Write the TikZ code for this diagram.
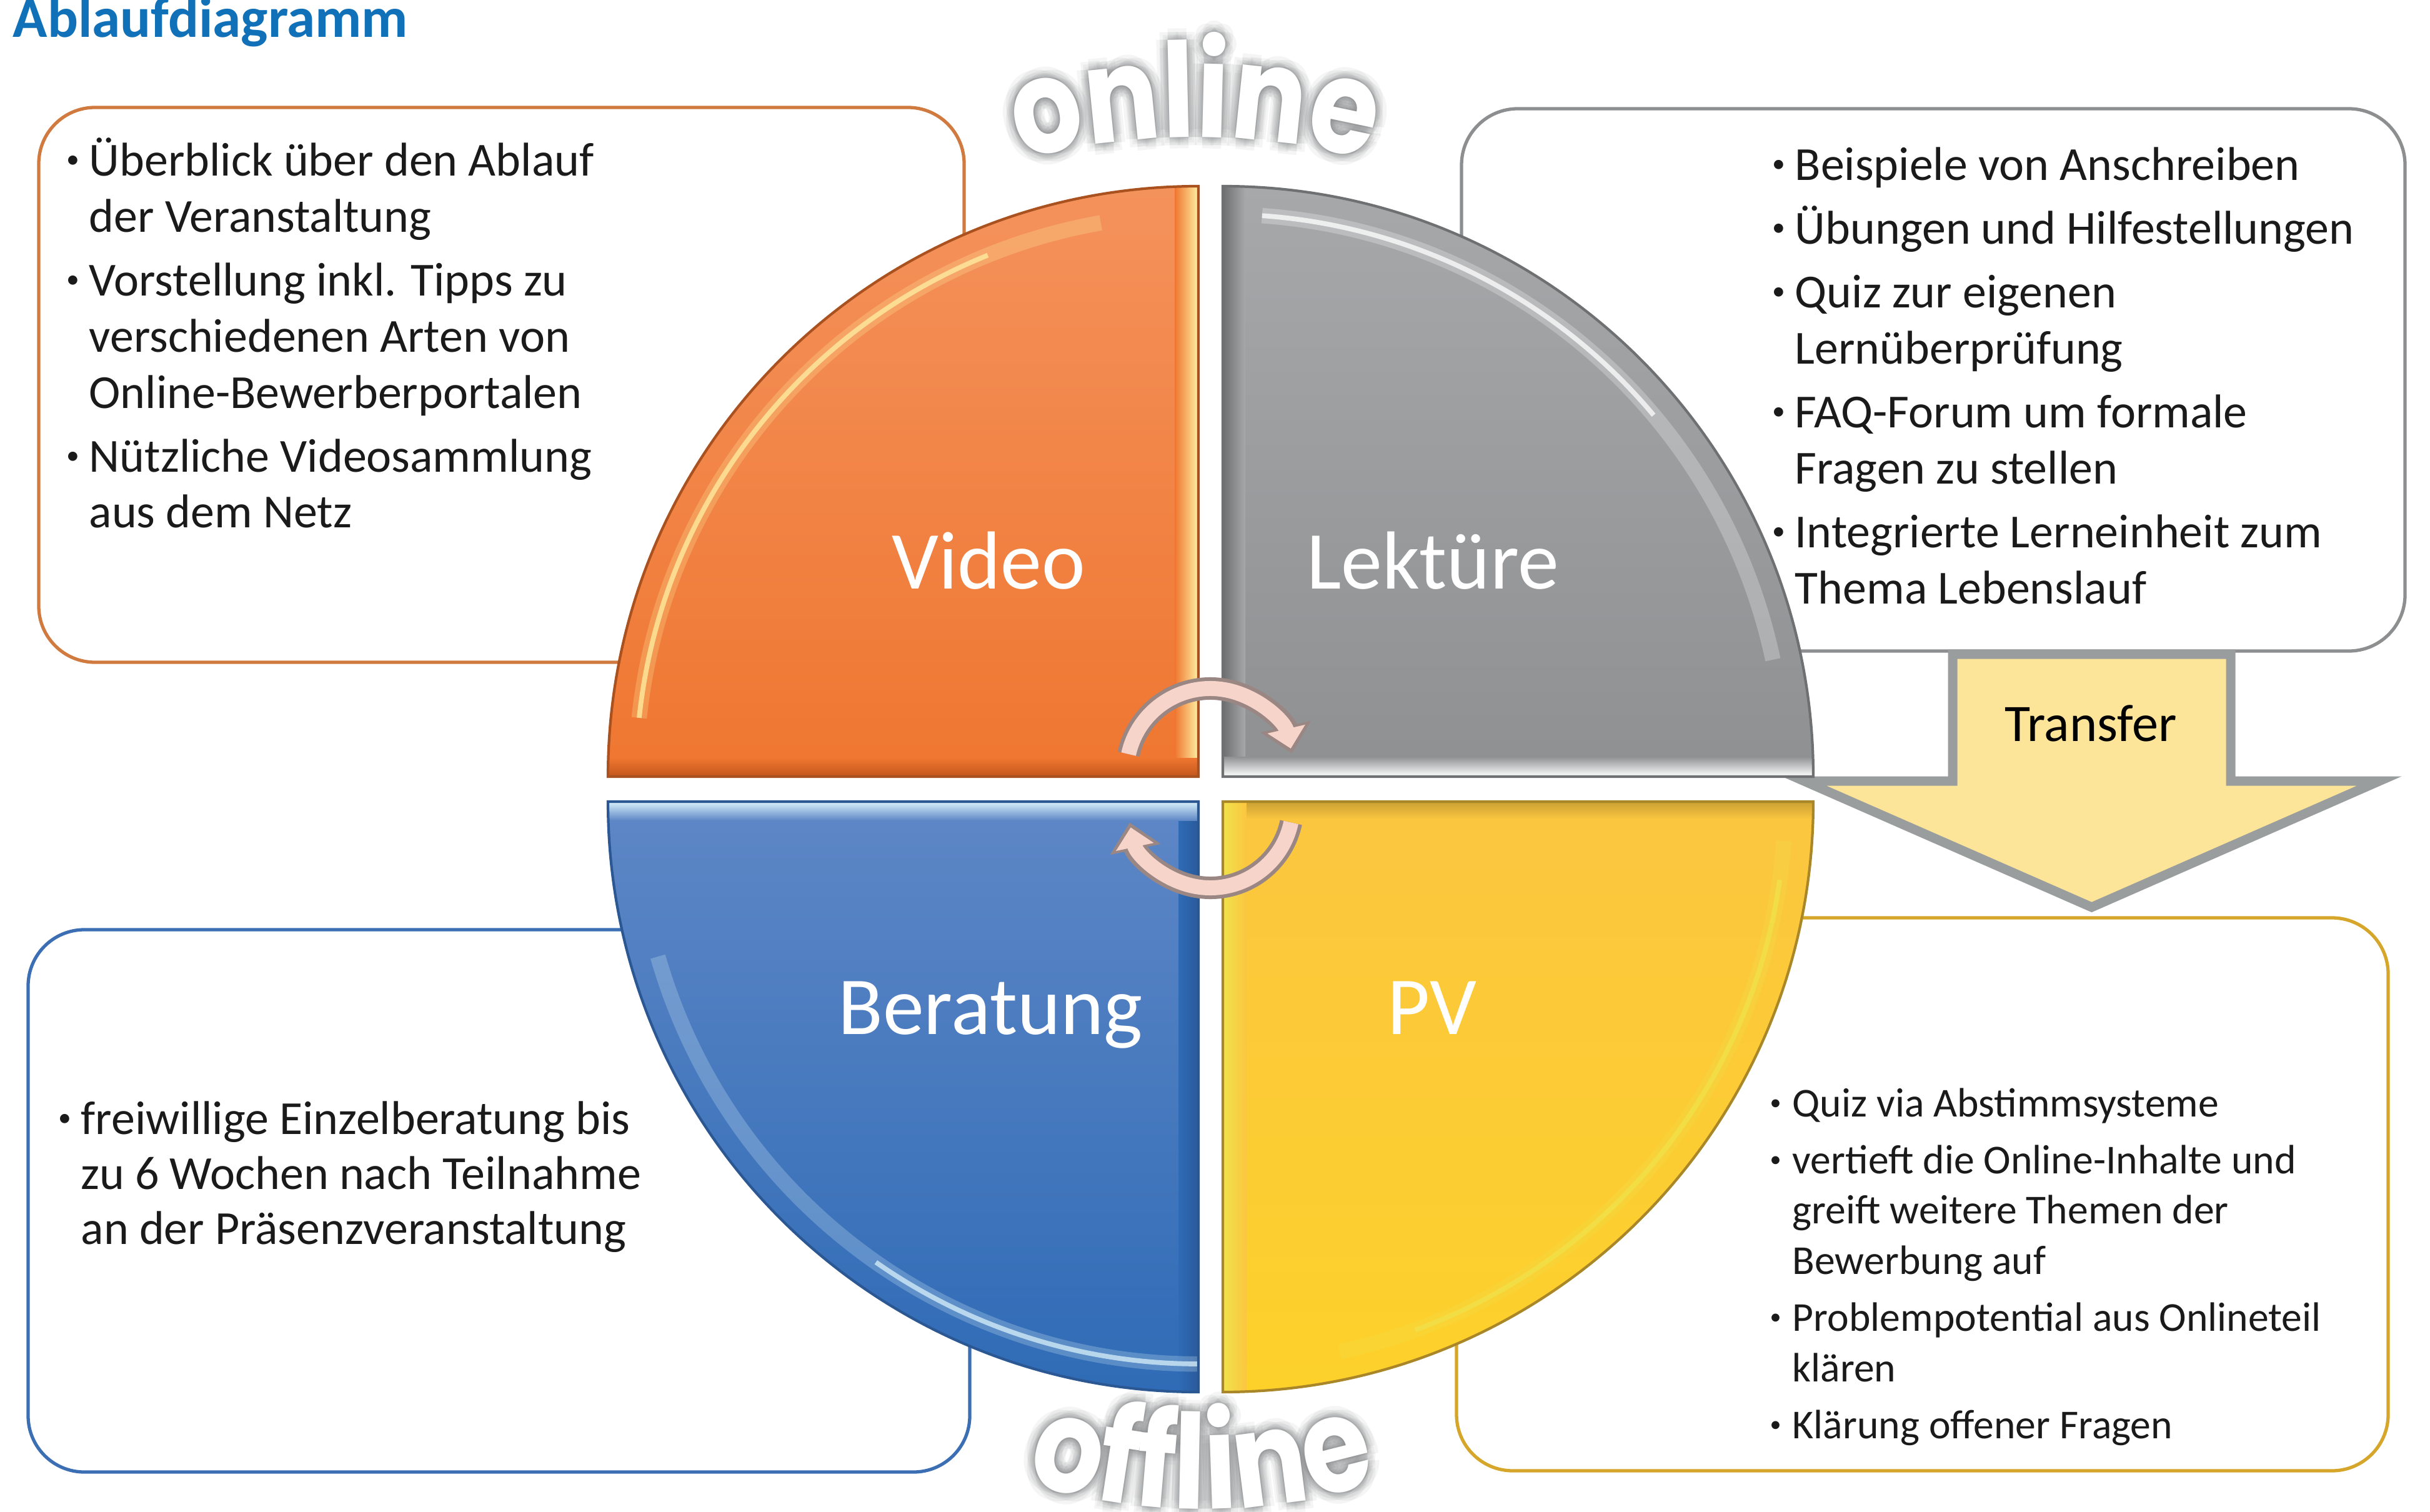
\documentclass[tikz,border=0pt]{standalone}
\usepackage{fontspec}
\setmainfont{Carlito}
\newfontfamily\arcfont[FakeStretch=0.84]{Poppins}
\usetikzlibrary{positioning}
\usetikzlibrary{calc}
\usetikzlibrary{math}
\usetikzlibrary{arrows.meta}
\usetikzlibrary{decorations.text}

\definecolor{titleblue}{HTML}{1071B8}
\definecolor{textblack}{HTML}{1A1A1A}
\definecolor{boxorange}{HTML}{D07A40}
\definecolor{boxgray}{HTML}{8C8E90}
\definecolor{boxblue}{HTML}{3B6EB2}
\definecolor{boxgold}{HTML}{D6A62A}
\definecolor{orangetop}{HTML}{F4925C}
\definecolor{orangebot}{HTML}{EF7630}
\definecolor{orangelight}{HTML}{FFF0A2}
\definecolor{orangedark}{HTML}{C2561C}
\definecolor{orangeedge}{HTML}{A9521F}
\definecolor{graytop}{HTML}{A6A8AA}
\definecolor{graybot}{HTML}{8E9092}
\definecolor{graydark}{HTML}{6C6E70}
\definecolor{grayedge}{HTML}{6E7072}
\definecolor{bluetop}{HTML}{5E87C6}
\definecolor{bluebot}{HTML}{2F6BB6}
\definecolor{bluelight}{HTML}{D8F0FA}
\definecolor{bluedark}{HTML}{2A5A9A}
\definecolor{blueedge}{HTML}{2B5793}
\definecolor{yellowtop}{HTML}{FBC640}
\definecolor{yellowbot}{HTML}{FDD12A}
\definecolor{yellowpale}{HTML}{F6F1B4}
\definecolor{yellowbright}{HTML}{F0E24A}
\definecolor{yellowedge}{HTML}{A98729}
\definecolor{arrowfill}{HTML}{FCE598}
\definecolor{arrowrim}{HTML}{999D9E}
\definecolor{cyclefill}{HTML}{F7D4CA}
\definecolor{cyclerim}{HTML}{9A8682}
\definecolor{glowgray}{HTML}{7A7C7E}

\newcommand{\bul}{\makebox[0.36cm][l]{\raisebox{0.35ex}{\scalebox{0.55}{\textbullet}}}}
\newcommand{\ind}{\hspace*{0.36cm}}
\newcommand{\arcstyle}{\arcfont\bfseries\fontsize{60}{60}\selectfont}

\tikzset{
  infobox/.style={line width=1.5pt, rounded corners=0.9cm},
  quarter/.style={line width=1.2pt},
  bevel/.style={line width=2.2pt, opacity=0.75},
  softbevel/.style={line width=7pt, opacity=0.25},
  quadlabel/.style={anchor=base, inner sep=0, text=white,
    font=\fontsize{37.5}{40}\selectfont},
  listtext/.style={anchor=base west, align=left, inner sep=0, text=textblack,
    font=\fontsize{21.6}{25.6}\selectfont},
  smalllist/.style={listtext, font=\fontsize{18.7}{23}\selectfont},
  cyclerimline/.style={line width=0.36cm, cyclerim,
    -{Triangle[length=0.44cm, width=0.8cm]}},
  cyclefillline/.style={line width=0.24cm, cyclefill, shorten >=0.08cm,
    -{Triangle[length=0.32cm, width=0.6cm]}},
}

\begin{document}
\begin{tikzpicture}[>=Stealth]

  \tikzmath{
    \R = 9.45; % radius of the quarter discs
  }

  \useasboundingbox (0,0) rectangle (38.89,-24.20);

  \coordinate (cO) at (19.18,-12.43); % corner orange
  \coordinate (cG) at (19.57,-12.43); % corner gray
  \coordinate (cB) at (19.18,-12.83); % corner blue
  \coordinate (cY) at (19.57,-12.83); % corner yellow

  % Title
  \node[anchor=base west, inner sep=0, text=titleblue,
    font=\bfseries\fontsize{26}{30}\selectfont] (title) at (0.20,-0.60) {Ablaufdiagramm};

  % Info boxes
  \draw[infobox, boxorange] (0.62,-1.72) rectangle (15.43,-10.60);
  \draw[infobox, boxgray]   (23.39,-1.74) rectangle (38.49,-10.42);
  \draw[infobox, boxblue]   (0.45,-14.88) rectangle (15.52,-23.56);
  \draw[infobox, boxgold]   (23.31,-14.69) rectangle (38.22,-23.54);

  % Transfer arrow
  \draw[line width=0.15cm, arrowrim, fill=arrowfill, line join=miter]
    (31.25,-10.47) -- (35.70,-10.47) -- (35.70,-12.50) -- (38.08,-12.50)
    -- (33.475,-14.52) -- (28.87,-12.50) -- (31.25,-12.50) -- cycle;
  \node[anchor=base, inner sep=0, font=\fontsize{24}{28}\selectfont]
    (transfer) at (33.46,-11.86) {Transfer};

  % Quarter disc Video
  \begin{scope}
    \clip (cO) -- ++(90:\R) arc[start angle=90, end angle=180, radius=\R] -- cycle;
    \fill[top color=orangetop, bottom color=orangebot] ($(cO)+(-\R,0)$) rectangle ($(cO)+(0,\R)$);
    \fill[left color=orangebot, right color=orangelight] ($(cO)+(-0.38,0)$) rectangle ($(cO)+(0,\R)$);
    \fill[top color=orangebot, bottom color=orangedark] ($(cO)+(-\R,0)$) rectangle ($(cO)+(0,0.30)$);
    \draw[softbevel, orangelight] (cO) ++(174:\R-0.45) arc[start angle=174, end angle=100, radius=\R-0.45];
    \draw[bevel, orangelight] (cO) ++(174:\R-0.45) arc[start angle=174, end angle=112, radius=\R-0.45];
  \end{scope}
  \draw[quarter, orangeedge] (cO) -- ++(90:\R) arc[start angle=90, end angle=180, radius=\R] -- cycle;

  % Quarter disc Lektuere
  \begin{scope}
    \clip (cG) -- ++(0:\R) arc[start angle=0, end angle=90, radius=\R] -- cycle;
    \fill[top color=graytop, bottom color=graybot] (cG) rectangle ($(cG)+(\R,\R)$);
    \fill[left color=graydark, right color=graytop] (cG) rectangle ($(cG)+(0.36,\R)$);
    \fill[top color=graybot, bottom color=white] (cG) rectangle ($(cG)+(\R,0.32)$);
    \draw[softbevel, white] (cG) ++(86:\R-0.45) arc[start angle=86, end angle=12, radius=\R-0.45];
    \draw[bevel, white] (cG) ++(86:\R-0.45) arc[start angle=86, end angle=40, radius=\R-0.45];
  \end{scope}
  \draw[quarter, grayedge] (cG) -- ++(0:\R) arc[start angle=0, end angle=90, radius=\R] -- cycle;

  % Quarter disc Beratung
  \begin{scope}
    \clip (cB) -- ++(180:\R) arc[start angle=180, end angle=270, radius=\R] -- cycle;
    \fill[top color=bluetop, bottom color=bluebot] ($(cB)+(-\R,-\R)$) rectangle (cB);
    \fill[left color=bluebot, right color=bluedark] ($(cB)+(-0.32,-\R)$) rectangle (cB);
    \fill[top color=bluelight, bottom color=bluetop] ($(cB)+(-\R,-0.30)$) rectangle (cB);
    \draw[softbevel, bluelight] (cB) ++(196:\R-0.45) arc[start angle=196, end angle=282, radius=\R-0.45];
    \draw[bevel, bluelight] (cB) ++(235:\R-0.45) arc[start angle=235, end angle=280, radius=\R-0.45];
  \end{scope}
  \draw[quarter, blueedge] (cB) -- ++(180:\R) arc[start angle=180, end angle=270, radius=\R] -- cycle;

  % Quarter disc PV
  \begin{scope}
    \clip (cY) -- ++(270:\R) arc[start angle=270, end angle=360, radius=\R] -- cycle;
    \fill[top color=yellowtop, bottom color=yellowbot] ($(cY)+(0,-\R)$) rectangle ($(cY)+(\R,0)$);
    \fill[left color=yellowbright, middle color=yellowpale, right color=yellowtop]
      ($(cY)+(0,-\R)$) rectangle ($(cY)+(0.38,0)$);
    \fill[top color=yellowedge!60!yellowtop, bottom color=yellowtop] ($(cY)+(0.38,-0.28)$) rectangle ($(cY)+(\R,0)$);
    \draw[softbevel, yellowbright] (cY) ++(282:\R-0.45) arc[start angle=282, end angle=356, radius=\R-0.45];
    \draw[bevel, yellowbright] (cY) ++(290:\R-0.45) arc[start angle=290, end angle=352, radius=\R-0.45];
  \end{scope}
  \draw[quarter, yellowedge] (cY) -- ++(270:\R) arc[start angle=270, end angle=360, radius=\R] -- cycle;

  % Quarter labels
  \node[quadlabel] (video)    at (15.82,-9.43)  {Video};
  \node[quadlabel] (lektuere) at (22.93,-9.43)  {Lektüre};
  \node[quadlabel] (beratung) at (15.85,-16.55) {Beratung};
  \node[quadlabel] (pv)       at (22.92,-16.55) {PV};

  % Box texts (anchored at the baseline of the last line)
  \node[listtext] (videotext) at (1.06,-8.45) {%
    \bul Überblick über den Ablauf\\
    \ind der Veranstaltung\\[3.4pt]
    \bul Vorstellung inkl. Tipps zu\\
    \ind verschiedenen Arten von\\
    \ind Online-Bewerberportalen\\[3.4pt]
    \bul Nützliche Videosammlung\\
    \ind aus dem Netz};

  \node[listtext] (lektueretext) at (28.36,-9.66) {%
    \bul Beispiele von Anschreiben\\[3.4pt]
    \bul Übungen und Hilfestellungen\\[3.4pt]
    \bul Quiz zur eigenen\\
    \ind Lernüberprüfung\\[3.4pt]
    \bul FAQ-Forum um formale\\
    \ind Fragen zu stellen\\[3.4pt]
    \bul Integrierte Lerneinheit zum\\
    \ind Thema Lebenslauf};

  \node[listtext, font=\fontsize{21.6}{25}\selectfont] (beratungtext) at (0.93,-19.91) {%
    \bul freiwillige Einzelberatung bis\\
    \ind zu 6 Wochen nach Teilnahme\\
    \ind an der Präsenzveranstaltung};

  \node[smalllist] (pvtext) at (28.32,-23.02) {%
    \bul Quiz via Abstimmsysteme\\[2.8pt]
    \bul vertieft die Online-Inhalte und\\
    \ind greift weitere Themen der\\
    \ind Bewerbung auf\\[2.8pt]
    \bul Problempotential aus Onlineteil\\
    \ind klären\\[2.8pt]
    \bul Klärung offener Fragen};

  % Cycle arrows in the middle
  \coordinate (topcycle) at ($(19.37,-12.36)+(167.5:1.34)$);
  \coordinate (botcycle) at ($(19.37,-12.89)+(-12:1.32)$);
  \draw[cyclerimline]  (topcycle) arc[start angle=167.5, end angle=13, radius=1.34];
  \draw[cyclefillline] (topcycle) arc[start angle=167.5, end angle=13, radius=1.34];
  \draw[cyclerimline]  (botcycle) arc[start angle=-12, end angle=-168, radius=1.32];
  \draw[cyclefillline] (botcycle) arc[start angle=-12, end angle=-168, radius=1.32];

  % online / offline along arcs, gray glow first
  \coordinate (onlinearc)  at (19.12,-13.20);
  \coordinate (offlinearc) at (19.23,-14.75);
  \begin{scope}[opacity=0.08]
    \foreach \a in {0,45,...,315} {
      \foreach \d in {0.03,0.07,0.12,0.18} {
        \path[decorate, decoration={text along path, text align=center,
          text={|\arcstyle\color{glowgray}|online}}]
          ($(onlinearc)+(\a:\d)$) ++(120:11) arc[start angle=120, end angle=60, radius=11];
        \path[decorate, decoration={text along path, text align=center,
          text={|\arcstyle\color{glowgray}|offline}}]
          ($(offlinearc)+(\a:\d)$) ++(240:9.4) arc[start angle=240, end angle=300, radius=9.4];
      }
    }
  \end{scope}
  \path[decorate, decoration={text along path, text align=center,
    text={|\arcstyle\color{white}|online}}]
    (onlinearc) ++(120:11) arc[start angle=120, end angle=60, radius=11];
  \path[decorate, decoration={text along path, text align=center,
    text={|\arcstyle\color{white}|offline}}]
    (offlinearc) ++(240:9.4) arc[start angle=240, end angle=300, radius=9.4];

\end{tikzpicture}
\end{document}
